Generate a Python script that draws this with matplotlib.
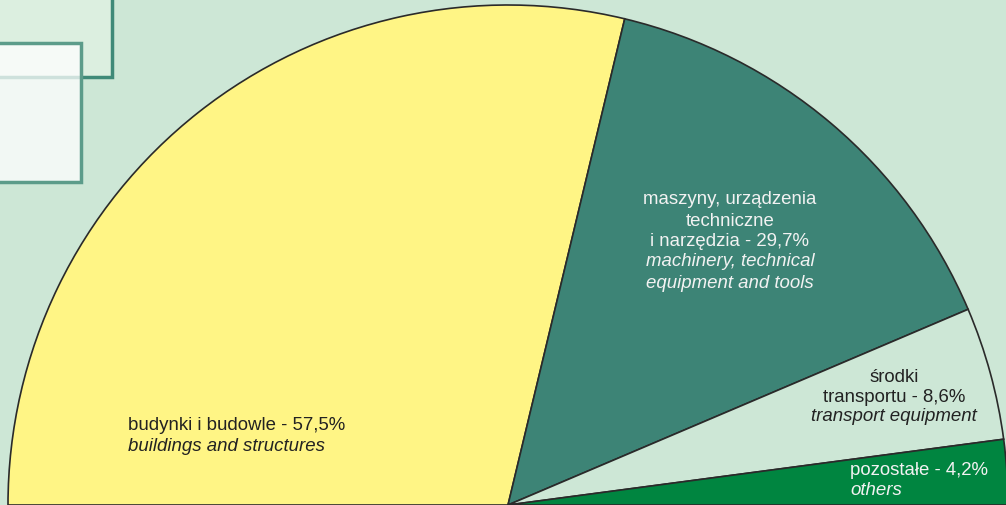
import matplotlib
matplotlib.use("Agg")
import matplotlib.pyplot as plt
from matplotlib.patches import Rectangle

categories = ["budynki i budowle", "maszyny, urządzenia techniczne i narzędzia",
              "środki transportu", "pozostałe"]
values = [57.5, 29.7, 8.6, 4.2]
colors = ["#fff585", "#3d8476", "#cde7d6", "#008540"]
bg = "#cde7d6"

plt.rcParams['font.family'] = ['Liberation Sans', 'DejaVu Sans']

fig = plt.figure(figsize=(10.06, 5.06), dpi=100, facecolor=bg)
ax = fig.add_axes([0, 0, 1, 1])
ax.set_facecolor(bg)

# decorative boxes (top-left)
ax.add_patch(Rectangle((-10, 506 - 78), 122, 100, facecolor="#dcefe0",
                       edgecolor="#3f8a78", lw=2.5, zorder=1))
ax.add_patch(Rectangle((-10, 506 - 183), 91, 139, facecolor="white", alpha=0.75,
                       edgecolor="none", zorder=2))
ax.add_patch(Rectangle((-10, 506 - 183), 91, 139, facecolor="none",
                       edgecolor="#5c9c8a", lw=2.5, zorder=3))

# half pie: the hidden second half makes the shown slices span 180 degrees
wedges, _ = ax.pie(values + [sum(values)], colors=colors + ["none"],
                   startangle=180, counterclock=False,
                   center=(508, 0), radius=500, frame=True,
                   wedgeprops=dict(edgecolor="#2a2a2a", linewidth=1.2))
wedges[-1].set_edgecolor("none")
for w in wedges:
    w.set_zorder(4)

ax.set_xlim(0, 1006)
ax.set_ylim(0, 506)
ax.set_aspect("auto")
ax.axis("off")

fs = 13.4
dark = "#222222"
white = "#f2f2f2"

def txt(x, y, s, color, ha="center", style="normal"):
    ax.text(x, 506 - y - 2, s, color=color, ha=ha, va="center", fontsize=fs,
            style=style, zorder=6)

# budynki
txt(128, 424, "budynki i budowle - 57,5%", dark, ha="left")
txt(128, 445, "buildings and structures", dark, ha="left", style="italic")
# maszyny
txt(730, 198, "maszyny, urządzenia", white)
txt(730, 219, "techniczne", white)
txt(730, 240, "i narzędzia - 29,7%", white)
txt(730, 260, "machinery, technical", white, style="italic")
txt(730, 281, "equipment and tools", white, style="italic")
# środki
txt(894, 375, "środki", dark)
txt(894, 395, "transportu - 8,6%", dark)
txt(894, 415, "transport equipment", dark, style="italic")
# pozostałe
txt(850, 469, "pozostałe - 4,2%", white, ha="left")
txt(850, 489, "others", white, ha="left", style="italic")

fig.savefig("out.png", dpi=100, facecolor=bg)
